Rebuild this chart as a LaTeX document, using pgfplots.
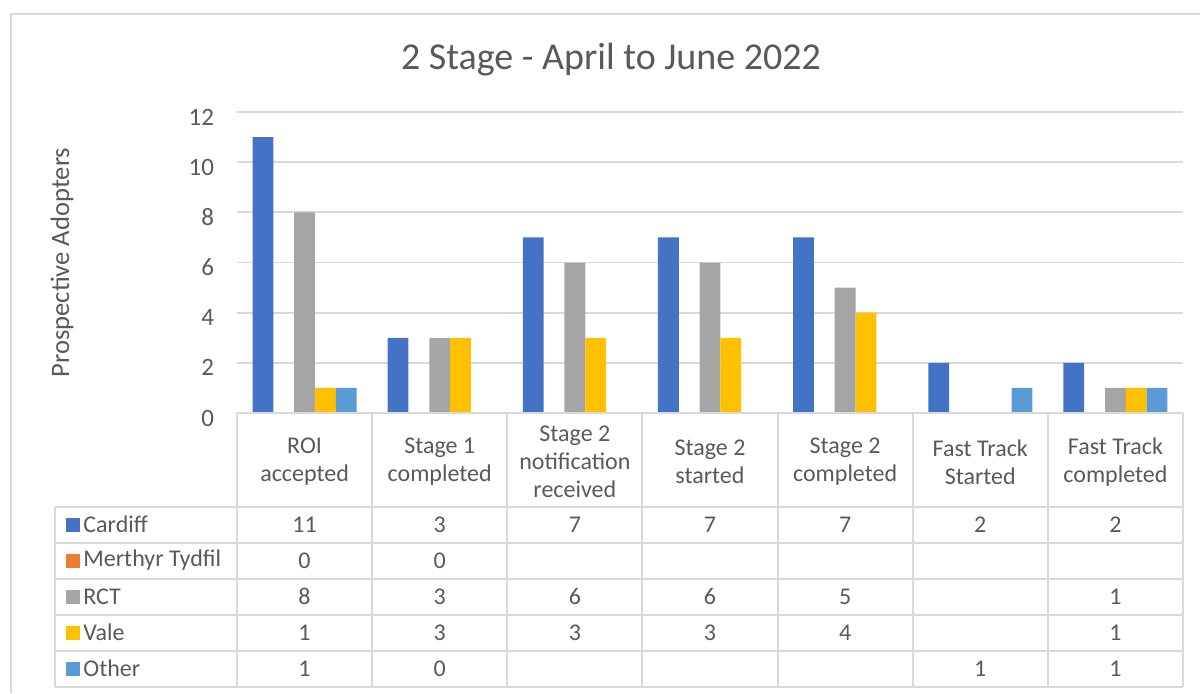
\documentclass[border=0pt]{standalone}
\usepackage{fontspec}
\setmainfont{Carlito}
\usepackage{pgfplots}
\pgfplotsset{compat=1.18}
\definecolor{cardiff}{HTML}{4472C4}
\definecolor{merthyr}{HTML}{ED7D31}
\definecolor{rct}{HTML}{A5A5A5}
\definecolor{vale}{HTML}{FFC000}
\definecolor{other}{HTML}{5B9BD5}
\definecolor{txt}{HTML}{595959}
\definecolor{grd}{HTML}{D9D9D9}
\newcommand{\tf}{\fontsize{12}{14}\selectfont}
\begin{document}
\begin{tikzpicture}
\begin{scope}[x=0.5pt,y=-0.5pt]
\useasboundingbox (0,0) rectangle (1200,693);
\draw[grd, line width=0.75pt] (11,693) -- (11,14) -- (1200,14);
\node[text=txt, font=\fontsize{19}{22}\selectfont] at (611,60) {2 Stage - April to June 2022};
\end{scope}
\begin{axis}[
  at={(118.5pt,-206.5pt)}, anchor=south west,
  scale only axis, width=473pt, height=150.5pt,
  xmin=-0.5, xmax=6.5, ymin=0, ymax=12,
  ytick={0,2,...,12}, xtick=\empty,
  ymajorgrids, grid style={grd, line width=0.9pt},
  axis line style={draw=none},
  major tick length=0pt,
  ybar, bar width=0.154,
  tick label style={font=\fontsize{12.5}{14}\selectfont, text=txt},
  /pgf/number format/assume math mode=true,
  yticklabel style={xshift=-8pt, yshift=-2.5pt},
  ylabel={Prospective Adopters},
  ylabel style={at={(axis description cs:-0.185,0.5)}, anchor=center, font=\fontsize{13.3}{15}\selectfont, text=txt},
]
\addplot[fill=cardiff, draw=none, bar shift=-0.308] coordinates {(0,11)(1,3)(2,7)(3,7)(4,7)(5,2)(6,2)};
\addplot[fill=merthyr, draw=none, bar shift=-0.154] coordinates {(0,0)(1,0)};
\addplot[fill=rct, draw=none, bar shift=0] coordinates {(0,8)(1,3)(2,6)(3,6)(4,5)(6,1)};
\addplot[fill=vale, draw=none, bar shift=0.154] coordinates {(0,1)(1,3)(2,3)(3,3)(4,4)(6,1)};
\addplot[fill=other, draw=none, bar shift=0.308] coordinates {(0,1)(1,0)(5,1)(6,1)};
\end{axis}
\begin{scope}[x=0.5pt,y=-0.5pt]
% grid of data table
\foreach \i in {0,...,7} {
  \draw[grd, line width=1pt] ({237+135.14*\i},413) -- ({237+135.14*\i},687);
}
\draw[grd, line width=1pt] (55,507) -- (55,687);
\draw[grd, line width=1pt] (237,413) -- (1183,413);
\foreach \y in {507,543,579,615,651,687} {
  \draw[grd, line width=1pt] (55,\y) -- (1183,\y);
}
% header
\foreach \lab [count=\i from 0] in {ROI\\accepted, Stage 1\\completed, Stage 2\\notification\\received, Stage 2\\started, Stage 2\\completed, Fast Track\\Started, Fast Track\\completed} {
  \node[text=txt, font=\tf, align=center] at ({237+135.14*(\i+0.5)},462) {\lab};
}
% legend column
\foreach \nm/\col [count=\r from 0] in {Cardiff/cardiff, Merthyr Tydfil/merthyr, RCT/rct, Vale/vale, Other/other} {
  \fill[\col] (66,{518+36*\r}) rectangle (80,{532+36*\r});
  \node[text=txt, font=\tf, anchor=west, inner sep=0pt] at (83,{524.5+36*\r}) {\nm};
}
% values
\foreach \vals [count=\r from 0] in {{11,3,7,7,7,2,2},{0,0,,,,,},{8,3,6,6,5,,1},{1,3,3,3,4,,1},{1,0,,,,1,1}} {
  \foreach \v [count=\i from 0] in \vals {
    \node[text=txt, font=\tf] at ({237+135.14*(\i+0.5)},{524.5+36*\r}) {\v};
  }
}
\end{scope}
\end{tikzpicture}
\end{document}
